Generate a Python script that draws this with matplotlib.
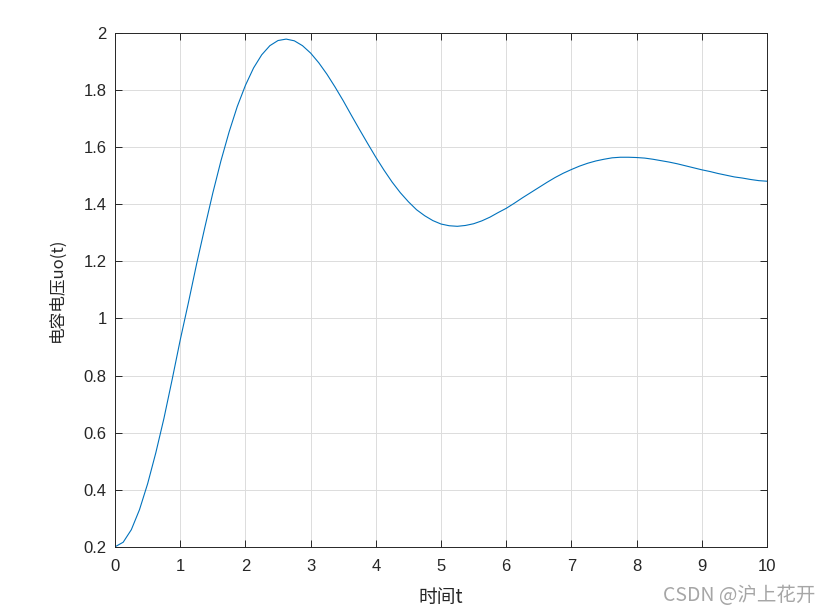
import numpy as np
import matplotlib.pyplot as plt
from matplotlib.ticker import FormatStrFormatter

plt.rcParams['font.family'] = ['Liberation Sans', 'Noto Sans CJK SC', 'DejaVu Sans']

# time (s) and capacitor voltage, step 0.125
t = np.arange(0, 10.001, 0.125)
uo = [0.200, 0.216, 0.260, 0.330, 0.421, 0.529, 0.650, 0.785, 0.925, 1.055,
      1.190, 1.317, 1.440, 1.553, 1.654, 1.743, 1.817, 1.878, 1.924, 1.956,
      1.974, 1.979, 1.973, 1.956, 1.930, 1.896, 1.856, 1.811, 1.763, 1.712,
      1.662, 1.613, 1.565, 1.520, 1.478, 1.441, 1.409, 1.381, 1.360, 1.343,
      1.331, 1.325, 1.323, 1.326, 1.332, 1.342, 1.355, 1.371, 1.386, 1.404,
      1.423, 1.441, 1.459, 1.477, 1.494, 1.509, 1.522, 1.534, 1.544, 1.552,
      1.558, 1.563, 1.565, 1.565, 1.564, 1.562, 1.558, 1.553, 1.548, 1.542,
      1.535, 1.528, 1.521, 1.515, 1.508, 1.502, 1.496, 1.492, 1.487, 1.483,
      1.481]

xticks = np.arange(0, 11, 1)
yticks = [0.2, 0.4, 0.6, 0.8, 1.0, 1.2, 1.4, 1.6, 1.8, 2.0]

axc = '#262626'
cjk = ['Noto Sans CJK SC', 'DejaVu Sans']

fig = plt.figure(figsize=(8.3, 6.13), dpi=100)
ax = fig.add_axes([0.1386, 0.108, 0.7855, 0.838])

ax.plot(t, uo, color='#0072BD', linewidth=0.8)

ax.set_xlim(0, 10)
ax.set_ylim(0.2, 2)
ax.set_xticks(xticks)
ax.set_yticks(yticks)
ax.yaxis.set_major_formatter(FormatStrFormatter('%g'))
ax.grid(True, color='#dcdcdc', linewidth=0.7)
ax.set_axisbelow(True)
ax.tick_params(direction='in', length=4.7, width=0.7, colors=axc,
               labelsize=12, top=True, right=True)
ax.tick_params(axis='x', pad=9)
ax.tick_params(axis='y', pad=6)
for s in ax.spines.values():
    s.set_color(axc)
    s.set_linewidth(0.7)

ax.set_xlabel('时间t', fontsize=13.5, color=axc, family=cjk, labelpad=9)
ax.set_ylabel('电容电压uo(t)', fontsize=12, color=axc, family=cjk, labelpad=13)

fig.text(0.982, 0.028, 'CSDN @沪上花开', ha='right', va='center', fontsize=14,
         color='#a6a6a6', family=cjk)

fig.savefig('out.png', dpi=100)
